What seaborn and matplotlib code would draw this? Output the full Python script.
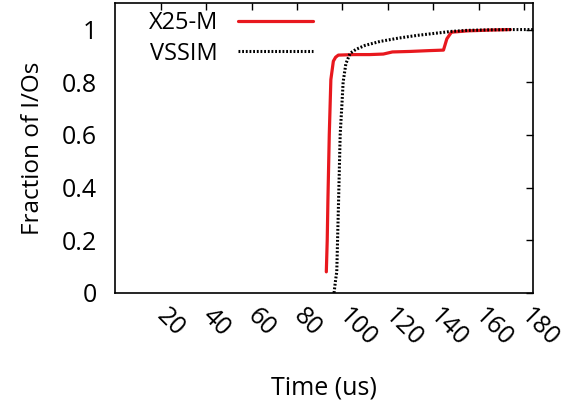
import pandas as pd
import matplotlib.pyplot as plt
import seaborn as sns

# CDF points (time in us, fraction of I/Os)
x25m_time = [92.9, 93.3, 93.6, 94.2, 94.9, 96.0, 97.0, 98.2, 105.0, 112.0, 118.0, 122.0, 130.0, 138.0, 144.5, 146.0, 148.0, 155.0, 165.0, 174.0]
x25m_frac = [0.08, 0.20, 0.35, 0.60, 0.81, 0.88, 0.895, 0.903, 0.905, 0.905, 0.907, 0.915, 0.917, 0.920, 0.922, 0.965, 0.99, 0.995, 0.998, 1.0]

vssim_time = [96.3, 97.0, 97.5, 98.3, 99.0, 99.8, 100.3, 101.5, 103.4, 106.0, 110.0, 116.6, 125.0, 133.0, 140.0, 145.0, 148.0, 155.0, 165.0, 175.0, 184.0]
vssim_frac = [0.0, 0.05, 0.08, 0.35, 0.60, 0.72, 0.80, 0.87, 0.91, 0.925, 0.94, 0.955, 0.968, 0.978, 0.985, 0.99, 0.993, 0.997, 0.999, 1.0, 1.0]

x_ticks = [20, 40, 60, 80, 100, 120, 140, 160, 180]
y_ticks = [0, 0.2, 0.4, 0.6, 0.8, 1]
y_tick_labels = ['0', '0.2', '0.4', '0.6', '0.8', '1']

sns.set_style('white')
plt.rcParams['font.family'] = ['Open Sans', 'DejaVu Sans']
plt.rcParams['text.color'] = 'black'
plt.rcParams['axes.labelcolor'] = 'black'
plt.rcParams['xtick.color'] = 'black'
plt.rcParams['ytick.color'] = 'black'

df = pd.concat([
    pd.DataFrame({'time': x25m_time, 'frac': x25m_frac, 'series': 'X25-M'}),
    pd.DataFrame({'time': vssim_time, 'frac': vssim_frac, 'series': 'VSSIM'}),
])

fig, ax = plt.subplots(figsize=(5.77, 4.04), dpi=100)
sns.lineplot(data=df[df.series == 'X25-M'], x='time', y='frac', ax=ax,
             color='#e8181e', linewidth=2.3, label='X25-M', sort=False)
sns.lineplot(data=df[df.series == 'VSSIM'], x='time', y='frac', ax=ax,
             color='black', linewidth=2.2, linestyle=(0, (0.6, 0.6)), label='VSSIM', sort=False)

ax.set_xlim(0, 184)
ax.set_ylim(0, 1.1)
ax.set_xticks(x_ticks)
ax.set_yticks(y_ticks)
ax.set_yticklabels(y_tick_labels)
ax.tick_params(direction='in', top=True, right=True, length=5, width=1, labelsize=18)
ax.tick_params(axis='y', pad=13)
ax.tick_params(axis='x', pad=14)
for lbl in ax.get_xticklabels():
    lbl.set_rotation(-45)
    lbl.set_ha('left')
    lbl.set_va('center')
    lbl.set_rotation_mode('anchor')
for s in ax.spines.values():
    s.set_linewidth(1.2)
    s.set_color('black')

ax.set_xlabel('Time (us)', fontsize=18, labelpad=17)
ax.set_ylabel('Fraction of I/Os', fontsize=17.5, labelpad=12)

leg = ax.legend(loc='upper right', frameon=False, fontsize=17, markerfirst=False,
                handlelength=3.2, handletextpad=0.85, labelspacing=0.28,
                borderpad=0, borderaxespad=0, bbox_to_anchor=(0.474, 0.973))

fig.subplots_adjust(left=0.2, right=0.924, top=0.992, bottom=0.275)
fig.savefig('out.png', dpi=100)
